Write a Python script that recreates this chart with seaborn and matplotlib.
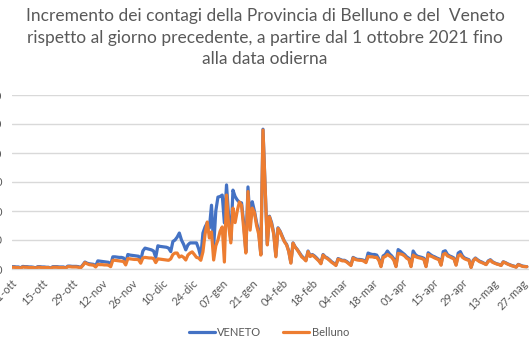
import pandas as pd
import seaborn as sns
import matplotlib.pyplot as plt

# incremento giornaliero dei contagi, dal 1 ottobre 2021
veneto = [
    400, 400, 350, 350,
    200, 450, 400, 400, 350, 350, 300,
    200, 400, 400, 350, 350, 300, 300,
    150, 400, 400, 400, 350, 350, 350,
    200, 500, 500, 450, 450, 450, 400,
    250, 700, 1200, 1000, 900, 850, 800,
    500, 1400, 1350, 1300, 1250, 1200, 1150,
    700, 2100, 2100, 2050, 2000, 2000, 1900,
    1100, 2500, 2400, 2350, 2300, 2250, 2200,
    1500, 3100, 3600, 3500, 3400, 3300, 3100,
    2000, 4000, 3900, 3850, 3800, 3750, 3600,
    3000, 4750, 5000, 5500, 6200, 5000, 4250,
    3300, 4150, 4500, 4500, 4500, 4500, 3500,
    2050, 6200, 7250, 7950, 7050, 11000, 3800,
    10000, 12400, 12500, 12750, 7950, 14500, 9000,
    5000, 13600, 12500, 11900, 11500, 11400, 8000,
    3000, 14150, 8000, 11600, 10000, 8000, 6500,
    2500, 24100, 14000, 4250, 9100, 8000, 6250,
    2250, 7100, 6500, 5600, 4750, 4250, 3100,
    1100, 4500, 3800, 3350, 2800, 2250, 1900,
    1500, 3100, 2250, 2500, 2250, 1900, 1500,
    1000, 2500, 2100, 1900, 1600, 1250, 1000,
    700, 1800, 1650, 1500, 1500, 1300, 1000,
    700, 2000, 1800, 1650, 1650, 1600, 1500,
    1250, 2750, 2600, 2500, 2500, 2400, 1750,
    500, 2250, 2500, 3100, 2600, 2250, 1750,
    500, 3350, 3100, 2800, 2500, 2100, 1850,
    500, 3100, 2500, 2200, 2100, 2000, 1850,
    500, 2800, 2500, 2250, 2100, 1900, 1750,
    750, 3000, 3150, 2500, 2250, 2100, 1900,
    750, 2750, 3000, 2250, 1900, 1750, 1600,
    300, 1500, 1900, 1600, 1350, 1200, 1000,
    800, 1400, 1600, 1250, 1050, 900, 800,
    650, 1250, 1100, 900, 750, 600, 500,
    350, 800, 650, 500, 450, 400,
]
belluno = [
    12, 12, 10, 10,
    6, 14, 12, 12, 10, 10, 10,
    6, 12, 12, 10, 10, 10, 10,
    4, 12, 12, 12, 10, 10, 10,
    6, 16, 16, 14, 14, 14, 12,
    8, 24, 44, 36, 30, 28, 26,
    14, 32, 30, 30, 28, 28, 26,
    16, 60, 60, 58, 56, 54, 52,
    28, 72, 70, 68, 66, 66, 64,
    40, 76, 80, 78, 76, 76, 72,
    44, 70, 68, 66, 64, 62, 60,
    70, 100, 110, 110, 82, 90, 80,
    62, 96, 110, 118, 100, 80, 76,
    60, 118, 240, 324, 214, 256, 62,
    160, 200, 260, 290, 48, 510, 300,
    180, 420, 320, 400, 462, 440, 280,
    110, 534, 268, 420, 390, 300, 240,
    96, 958, 560, 166, 360, 310, 240,
    84, 280, 256, 220, 188, 166, 120,
    40, 178, 150, 132, 108, 84, 72,
    56, 120, 86, 96, 84, 70, 56,
    36, 96, 80, 72, 60, 46, 36,
    24, 68, 62, 56, 56, 48, 36,
    24, 76, 66, 62, 60, 60, 54,
    44, 86, 84, 84, 80, 80, 60,
    16, 80, 86, 100, 90, 80, 60,
    16, 108, 104, 100, 90, 74, 66,
    16, 96, 86, 80, 76, 72, 66,
    16, 100, 90, 84, 76, 70, 64,
    26, 100, 108, 90, 84, 76, 70,
    26, 90, 100, 80, 70, 64, 60,
    10, 56, 72, 60, 50, 44, 38,
    30, 52, 60, 46, 40, 34, 30,
    24, 48, 42, 34, 28, 22, 18,
    12, 30, 24, 18, 16, 16,
]
tick_labels = ['01-ott', '15-ott', '29-ott', '12-nov', '26-nov', '10-dic',
               '24-dic', '07-gen', '21-gen', '04-feb', '18-feb', '04-mar',
               '18-mar', '01-apr', '15-apr', '29-apr', '13-mag', '27-mag']

giorni = pd.date_range('2021-10-01', periods=len(veneto), freq='D')
df = pd.DataFrame({'data': giorni, 'VENETO': veneto, 'Belluno': belluno})

sns.set_style('white')
plt.rcParams['font.family'] = ['Lato', 'DejaVu Sans']
grigio = '#595959'

fig = plt.figure(figsize=(5.29, 3.53), dpi=100)
ax = fig.add_axes([12/529, 1 - 269/353, 517/529, 174/353])
ax2 = ax.twinx()

sns.lineplot(data=df, x='data', y='VENETO', ax=ax, color='#4472C4', lw=2.3, legend=False)
sns.lineplot(data=df, x='data', y='Belluno', ax=ax2, color='#ED7D31', lw=2.3, legend=False)

ax.set_ylim(0, 30000)
ax2.set_ylim(0, 1200)
ax.set_yticks(range(0, 30001, 5000))
ax.set_xlim(giorni[0], giorni[0] + pd.Timedelta(days=241))
ax.yaxis.grid(True, color='#d9d9d9', lw=1)
ax.set_axisbelow(True)

tick_pos = pd.date_range('2021-10-01', periods=len(tick_labels), freq='14D')
ax.set_xticks(tick_pos)
ax.set_xticklabels(tick_labels, rotation=45, ha='right', rotation_mode='anchor')
ax.tick_params(axis='x', length=4, color='#d9d9d9', labelsize=8, labelcolor=grigio, pad=2)
ax.tick_params(axis='y', length=0, labelsize=8, labelcolor=grigio, pad=7)
ax.set_xlabel(''); ax.set_ylabel('')
ax2.set_ylabel(''); ax2.set_yticks([])

for a in (ax, ax2):
    for s in ('top', 'right', 'left'):
        a.spines[s].set_visible(False)
    a.spines['bottom'].set_color('#d9d9d9')

fig.text(0.501, 0.978, 'Incremento dei contagi della Provincia di Belluno e del  Veneto\n'
         'rispetto al giorno precedente, a partire dal 1 ottobre 2021 fino\n'
         'alla data odierna', ha='center', va='top', fontsize=12.5,
         color=grigio, linespacing=1.45)

fig.legend(handles=[ax.lines[0], ax2.lines[0]], labels=['VENETO', 'Belluno'],
           loc='center', bbox_to_anchor=(0.508, 0.058), ncol=2, frameon=False,
           fontsize=8, labelcolor=grigio, handlelength=2.4, handletextpad=0.2,
           columnspacing=1.9)

fig.savefig('out.png', dpi=100)
